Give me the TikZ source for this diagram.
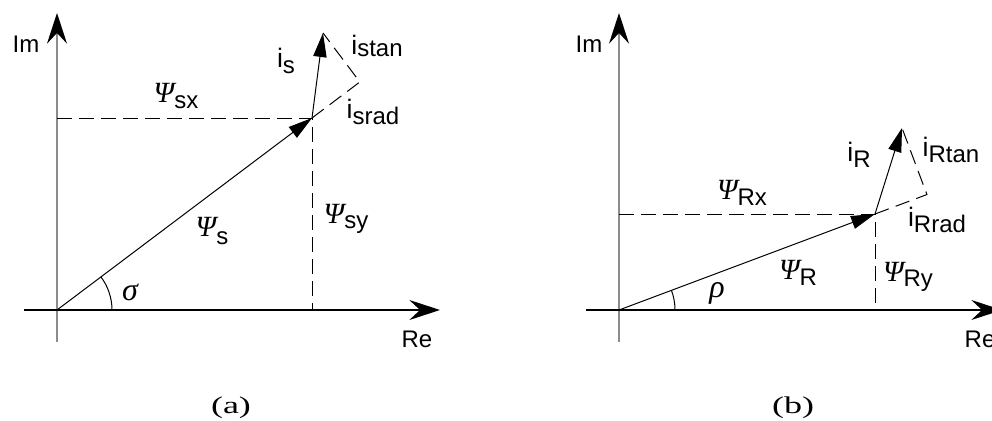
\documentclass[tikz,border=0pt]{standalone}
\usepackage{fontspec}
\newfontfamily\sff{Liberation Sans}
\newfontfamily\grk{Liberation Serif}
\usetikzlibrary{arrows.meta,calc}
\newcommand\sbs[1]{\raisebox{-4pt}{\fontsize{18}{18}\selectfont\sff #1}}
\newcommand\gP{{\fontsize{22}{22}\selectfont\grk\itshape Ψ}}
\newcommand\gS{{\fontsize{24}{24}\selectfont\grk\itshape σ}}
\newcommand\gR{{\fontsize{24}{24}\selectfont\grk\itshape ρ}}
\newcommand\ii{{\fontsize{20}{20}\selectfont\sff i}}
\newcommand\captext[1]{\scalebox{1.5}[1]{\fontsize{18}{18}\selectfont\grk #1}}
\begin{document}
\begin{tikzpicture}[x=0.75pt,y=-0.75pt,
  lbl/.style={inner sep=0pt, anchor=center},
  axtxt/.style={inner sep=0pt, anchor=center, font=\fontsize{18}{18}\selectfont\sff},
  captxt/.style={inner sep=0pt, anchor=base},
  axv/.style={line width=1.1pt, draw=black!45, -{Stealth[length=23pt,width=15pt,inset=8pt,fill=black,color=black]}},
  axh/.style={line width=1.1pt, -{Stealth[length=23pt,width=15pt,inset=8pt]}},
  vec/.style={line width=0.75pt, -{Triangle[length=18pt,width=10pt]}},
  dsh/.style={line width=0.75pt, dash pattern=on 11pt off 5.5pt},
  ang/.style={line width=0.75pt}]
\useasboundingbox (0,0) rectangle (992,421);

% ---------- panel (a) ----------
\coordinate (O1) at (57,310);
\coordinate (ImB1) at (57,342);
\coordinate (ImT1) at (57,13);
\coordinate (ReL1) at (24,310);
\coordinate (ReR1) at (440,310);
\coordinate (P1) at (312,118);
\coordinate (I1) at (323,33);
\coordinate (C1) at ($(O1)!(I1)!(P1)$);
\coordinate (X1) at (P1 |- O1);
\coordinate (Y1) at (O1 |- P1);

\draw[axv] (ImB1) -- (ImT1);
\draw[axh] (ReL1) -- (ReR1);
\draw[dsh] (Y1) -- (P1) -- (X1);
\draw[dsh] (P1) -- (C1) -- (I1);
\draw[vec] (O1) -- (P1);
\draw[vec] (P1) -- (I1);
\draw[ang] ($(O1)+(55,0)$) arc[start angle=0, end angle=-37.1, radius=55];

\node[axtxt] (im1) at (26,44) {Im};
\node[axtxt] (re1) at (417,339) {Re};
\node[lbl] (psx) at (176,96) {\gP\sbs{sx}};
\node[lbl] (is) at (286,61) {\ii\sbs{s}};
\node[lbl] (istan) at (377,46) {\ii\raisebox{-2pt}{\fontsize{18}{18}\selectfont\sff stan}};
\node[lbl] (israd) at (373,112) {\ii\sbs{srad}};
\node[lbl] (psy) at (346,219) {\gP\sbs{sy}};
\node[lbl] (ps) at (212,231) {\gP\raisebox{-6pt}{\fontsize{18}{18}\selectfont\sff s}};
\node[lbl] (sig) at (130,292) {\gS};
\node[captxt] (capa) at (231,413) {\captext{(a)}};

% ---------- panel (b) ----------
\coordinate (O2) at (619,310);
\coordinate (ImB2) at (619,342);
\coordinate (ImT2) at (619,13);
\coordinate (ReL2) at (586,310);
\coordinate (ReR2) at (1002,310);
\coordinate (P2) at (875,214);
\coordinate (I2) at (902,128);
\coordinate (C2) at ($(O2)!(I2)!(P2)$);
\coordinate (X2) at (P2 |- O2);
\coordinate (Y2) at (O2 |- P2);

\draw[axv] (ImB2) -- (ImT2);
\draw[axh] (ReL2) -- (ReR2);
\draw[dsh] (Y2) -- (P2) -- (X2);
\draw[dsh] (P2) -- (C2) -- (I2);
\draw[vec] (O2) -- (P2);
\draw[vec] (P2) -- (I2);
\draw[ang] ($(O2)+(56,0)$) arc[start angle=0, end angle=-20.56, radius=56];

\node[axtxt] (im2) at (589,44) {Im};
\node[axtxt] (re2) at (980,339) {Re};
\node[lbl] (prx) at (742,193) {\gP\sbs{Rx}};
\node[lbl] (ir) at (859,155) {\ii\sbs{R}};
\node[lbl] (irtan) at (951,150) {\ii\sbs{Rtan}};
\node[lbl] (irrad) at (937,220) {\ii\sbs{Rrad}};
\node[lbl] (pr) at (798,273) {\gP\sbs{R}};
\node[lbl] (pry) at (908,277) {\gP\sbs{Ry}};
\node[lbl] (rho) at (717,293) {\gR};
\node[captxt] (capb) at (793,413) {\captext{(b)}};
\end{tikzpicture}
\end{document}
